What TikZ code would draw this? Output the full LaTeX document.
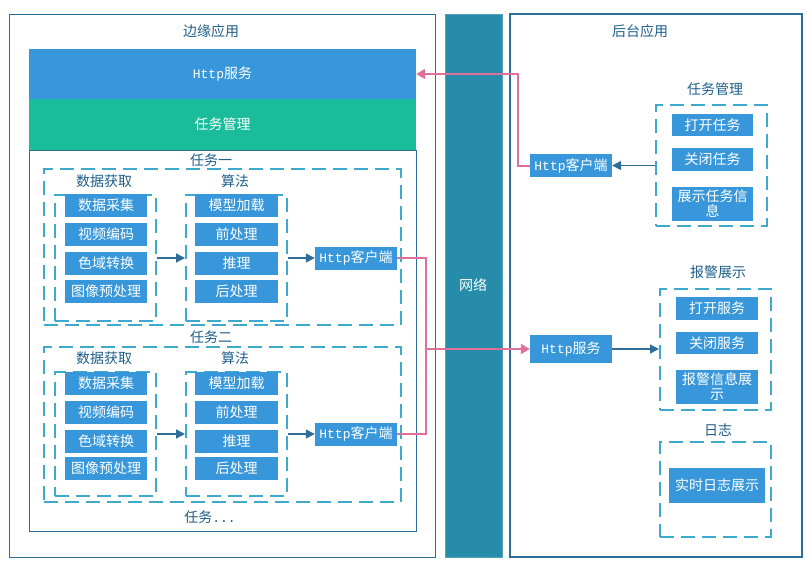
\documentclass[tikz,border=0pt]{standalone}
\usepackage{fontspec}
\setmainfont{Noto Sans CJK SC}
\setmonofont{Liberation Mono}
\usetikzlibrary{arrows.meta}
\newcommand\httpword{{\fontsize{13}{13}\selectfont\ttfamily Http}}
\definecolor{bblue}{HTML}{3797DA}
\definecolor{tgreen}{HTML}{1ABC9C}
\definecolor{dtext}{HTML}{1F5F8B}
\definecolor{dline}{HTML}{3DAACB}
\definecolor{frame}{HTML}{2E6C9A}
\definecolor{net}{HTML}{268CAA}
\definecolor{pinkl}{HTML}{E0709A}
\tikzset{
  bbox/.style={fill=bblue, text=white, inner sep=0pt, font=\fontsize{14}{15}\selectfont, align=center},
  lbl/.style={text=dtext, inner sep=0pt, font=\fontsize{14}{14}\selectfont},
  dbox/.style={draw=dline, line width=2pt, dash pattern=on 14pt off 7pt, inner sep=0pt},
  barrow/.style={draw=frame, line width=1.4pt, -{Triangle[length=9pt,width=9pt]}},
  parrow/.style={draw=pinkl, line width=2pt, -{Triangle[length=9pt,width=10pt]}},
  pline/.style={draw=pinkl, line width=2pt},
}
\begin{document}
\begin{tikzpicture}[x=1pt,y=-1pt]
\useasboundingbox (0,0) rectangle (812,566);
\fill[white] (0,0) rectangle (812,566);
% left outer
\node[draw=frame, line width=1pt, minimum width=426, minimum height=543, inner sep=0pt] (edge) at (222.5,285.5) {};
\node[lbl] (edget) at (211,31) {边缘应用};
\node[fill=bblue, text=white, minimum width=387, minimum height=50, inner sep=0pt, font=\fontsize{14}{14}\selectfont] (http) at (222.5,74) {\httpword 服务};
\node[fill=tgreen, text=white, minimum width=387, minimum height=51, inner sep=0pt, font=\fontsize{14}{14}\selectfont] (tmgr) at (222.5,124.5) {任务管理};
\node[draw=frame, line width=1pt, minimum width=387, minimum height=381, inner sep=0pt] (inner) at (222.5,340.5) {};
% task 1
\node[lbl] (t1l) at (211,160) {任务一};
\node[dbox, minimum width=357, minimum height=156] (t1) at (222.5,247) {};
\node[lbl] (d1l) at (104,181) {数据获取};
\node[dbox, minimum width=101, minimum height=126] (d1) at (105.5,258) {};
\node[bbox, minimum width=82, minimum height=23] (d1a) at (106,205.5) {数据采集};
\node[bbox, minimum width=82, minimum height=23] (d1b) at (106,234.5) {视频编码};
\node[bbox, minimum width=82, minimum height=23] (d1c) at (106,263.5) {色域转换};
\node[bbox, minimum width=82, minimum height=23] (d1d) at (106,291) {图像预处理};
\node[lbl] (a1l) at (235,181) {算法};
\node[dbox, minimum width=101, minimum height=126] (a1) at (236.5,258) {};
\node[bbox, minimum width=83, minimum height=23] (a1a) at (236.5,205.5) {模型加载};
\node[bbox, minimum width=83, minimum height=23] (a1b) at (236.5,234.5) {前处理};
\node[bbox, minimum width=83, minimum height=23] (a1c) at (236.5,263.5) {推理};
\node[bbox, minimum width=83, minimum height=23] (a1d) at (236.5,291) {后处理};
\node[bbox, minimum width=82, minimum height=23] (c1) at (356,258) {\httpword 客户端};
\draw[barrow] (d1.east) -- (a1.west);
\draw[barrow] (a1.east) -- (c1.west);
% task 2
\node[lbl] (t2l) at (211,337) {任务二};
\node[dbox, minimum width=357, minimum height=155] (t2) at (222.5,424.5) {};
\node[lbl] (d2l) at (104,358) {数据获取};
\node[dbox, minimum width=101, minimum height=124] (d2) at (105.5,434) {};
\node[bbox, minimum width=82, minimum height=23] (d2a) at (106,383.5) {数据采集};
\node[bbox, minimum width=82, minimum height=23] (d2b) at (106,412.5) {视频编码};
\node[bbox, minimum width=82, minimum height=23] (d2c) at (106,441.5) {色域转换};
\node[bbox, minimum width=82, minimum height=23] (d2d) at (106,468.5) {图像预处理};
\node[lbl] (a2l) at (235,358) {算法};
\node[dbox, minimum width=101, minimum height=124] (a2) at (236.5,434) {};
\node[bbox, minimum width=83, minimum height=23] (a2a) at (236.5,383.5) {模型加载};
\node[bbox, minimum width=83, minimum height=23] (a2b) at (236.5,412.5) {前处理};
\node[bbox, minimum width=83, minimum height=23] (a2c) at (236.5,441.5) {推理};
\node[bbox, minimum width=83, minimum height=23] (a2d) at (236.5,468.5) {后处理};
\node[bbox, minimum width=82, minimum height=23] (c2) at (356,434) {\httpword 客户端};
\draw[barrow] (d2.east) -- (a2.west);
\draw[barrow] (a2.east) -- (c2.west);
\node[lbl] (tml) at (210,517) {任务{\fontsize{13}{13}\selectfont\ttfamily ...}};
% network
\node[fill=net, draw=net!80!white, line width=0.8pt, minimum width=57, minimum height=543, inner sep=0pt] (netbar) at (473.5,285.5) {};
\node[text=white, inner sep=0pt, font=\fontsize{14}{14}\selectfont] (netl) at (473,285) {网络};
% right outer
\node[draw=frame, line width=1.8pt, minimum width=292, minimum height=543, inner sep=0pt] (back) at (656,285.5) {};
\node[lbl] (backt) at (640,31) {后台应用};
% task management
\node[lbl] (rtml) at (715,89) {任务管理};
\node[dbox, minimum width=111, minimum height=121] (rtm) at (711.5,165.5) {};
\node[bbox, minimum width=81, minimum height=22] (rtm1) at (712.5,125) {打开任务};
\node[bbox, minimum width=81, minimum height=23] (rtm2) at (712.5,159.5) {关闭任务};
\node[bbox, minimum width=81, minimum height=34] (rtm3) at (712.5,204) {展示任务信\\息};
\node[bbox, minimum width=82, minimum height=23] (hc) at (571,165.5) {\httpword 客户端};
\draw[barrow] (rtm.west) -- (hc.east);
\draw[parrow] (hc.west) -- ++(-12,0) |- (http.east);
% alarm
\node[lbl] (al) at (718,272) {报警展示};
\node[dbox, minimum width=111, minimum height=121] (alb) at (715.5,349) {};
\node[bbox, minimum width=82, minimum height=23] (al1) at (717,308.5) {打开服务};
\node[bbox, minimum width=82, minimum height=22] (al2) at (717,343) {关闭服务};
\node[bbox, minimum width=82, minimum height=34] (al3) at (717,387) {报警信息展\\示};
\node[bbox, minimum width=82, minimum height=28] (hs) at (571,349) {\httpword 服务};
\draw[barrow] (hs.east) -- (alb.west);
\coordinate (j) at (425.5,349);
\draw[pline] (c1.east) -| (j);
\draw[pline] (c2.east) -| (j);
\draw[parrow] (j) -- (hs.west);
% log
\node[lbl] (logl) at (718,430) {日志};
\node[dbox, minimum width=111, minimum height=95] (logb) at (715.5,489.5) {};
\node[bbox, minimum width=96, minimum height=35] (log1) at (717,485.5) {实时日志展示};
\end{tikzpicture}
\end{document}
